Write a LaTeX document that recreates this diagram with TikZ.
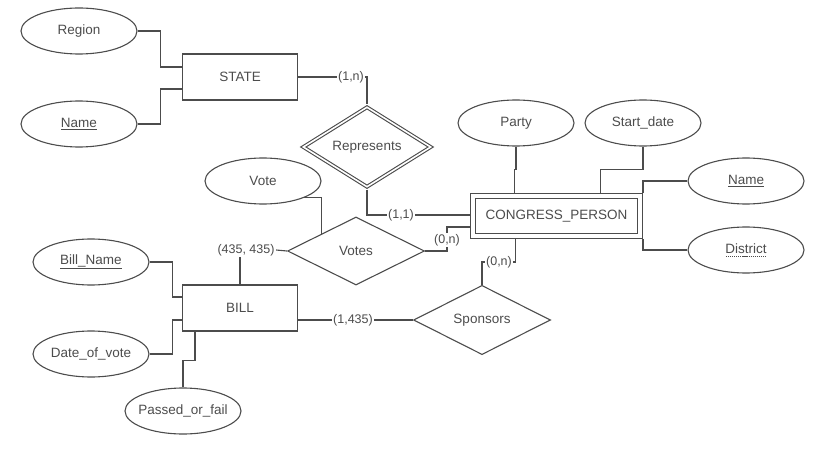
\documentclass[tikz,border=0pt]{standalone}
\usepackage{fontspec}
\setmainfont{Liberation Sans}
\usetikzlibrary{shapes.geometric}
\definecolor{erline}{gray}{0.3}
\newcommand{\dashunder}[1]{\setbox0=\hbox{#1}\makebox[0pt][l]{\raisebox{-2.5pt}{\hbox to \wd0{\xleaders\hbox to 2pt{\hss\rule{1.2pt}{0.5pt}\hss}\hfill}}}\box0}

\begin{document}
\begin{tikzpicture}
    [x=1pt, y=-1pt, line width=1.1pt, color=erline,
     font=\fontsize{13.5}{16}\selectfont,
     entity/.style={rectangle, draw, minimum width=115pt, minimum height=46pt, inner sep=0pt},
     weak/.style={rectangle, draw, double, double distance=4pt, outer sep=3pt, minimum width=167pt, minimum height=40pt, inner sep=0pt},
     attr/.style={ellipse, draw, minimum width=116pt, minimum height=46pt, inner xsep=-20pt, inner ysep=0pt},
     rel/.style={diamond, draw, minimum width=137pt, minimum height=68pt, inner sep=0pt},
     idrel/.style={rel, double, double distance=1.6pt, outer sep=2pt, minimum width=129pt, minimum height=64pt},
     card/.style={fill=white, inner sep=1pt, font=\fontsize{12.5}{14}\selectfont},
     edge/.style={draw}]
    \useasboundingbox (0,0) rectangle (826,454);
    % Define nodes
    \node[attr] (region) at (79,31) {Region};
    \node[attr] (sname) at (79,124) {\underline{Name}};
    \node[entity] (state) at (240,77) {STATE};
    \node[idrel] (represents) at (367,147) {Represents};
    \node[attr] (vote) at (263,181) {Vote};
    \node[rel] (votes) at (356,251) {Votes};
    \node[attr] (party) at (516,123) {Party};
    \node[attr] (startdate) at (643,123) {Start\_date};
    \node[weak] (cp) at (556.5,216) {CONGRESS\_PERSON};
    \node[attr] (pname) at (746,181) {\dashunder{Name}};
    \node[attr] (district) at (746,250) {\dashunder{District}};
    \node[attr] (billname) at (91,262) {\underline{Bill\_Name}};
    \node[entity] (bill) at (240,308) {BILL};
    \node[attr] (dateofvote) at (91,354) {Date\_of\_vote};
    \node[attr] (passed) at (183,411) {Passed\_or\_fail};
    \node[rel] (sponsors) at (482,320) {Sponsors};
    % Cardinalities
    \node[card] (c1n) at (351,77) {(1,n)};
    \node[card] (c11) at (401,215) {(1,1)};
    \node[card] (c435) at (246,250) {(435, 435)};
    \node[card] (c0nv) at (447,240) {(0,n)};
    \node[card] (c0ns) at (499,262) {(0,n)};
    \node[card] (c1435) at (353,320) {(1,435)};
    % Define edges
    \draw[edge] (region.east) -- ++(23,0) |- ([yshift=10pt]state.west);
    \draw[edge] (sname.east) -- ++(23,0) |- ([yshift=-12pt]state.west);
    \draw[edge] (state.east) -- (c1n.west);
    \draw[edge] (c1n.east) -| (represents.north);
    \draw[edge] (represents.south) |- (c11.west);
    \draw[edge] (c11.east) -- (c11.east -| cp.west);
    \draw[edge] (vote.-22) -| (votes.north west);
    \draw[edge] (votes.west) -- (c435.east);
    \draw[edge] (c435.south -| bill.north) -- (bill.north);
    \draw[edge] (votes.east) -| (c0nv.south);
    \draw[edge] (c0nv.north) |- ([yshift=-11pt]cp.west);
    \draw[edge] (party.south) -- ++(0,23) -| ([xshift=-42pt]cp.north);
    \draw[edge] (startdate.south) -- ++(0,23) -| ([xshift=44pt]cp.north);
    \draw[edge] (pname.west) -| (cp.north east);
    \draw[edge] (district.west) -| (cp.south east);
    \draw[edge] (billname.east) -- ++(23,0) |- ([yshift=11pt]bill.west);
    \draw[edge] (dateofvote.east) -- ++(23,0) |- ([yshift=-12pt]bill.west);
    \draw[edge] (passed.north) -- ++(0,-27) -| ([xshift=-45pt]bill.south);
    \draw[edge] ([yshift=-12pt]bill.east) -- (c1435.west);
    \draw[edge] (c1435.east) -- (sponsors.west);
    \draw[edge] (sponsors.north) |- (c0ns.west);
    \draw[edge] (c0ns.east) -| ([xshift=-41pt]cp.south);
\end{tikzpicture}
\end{document}
